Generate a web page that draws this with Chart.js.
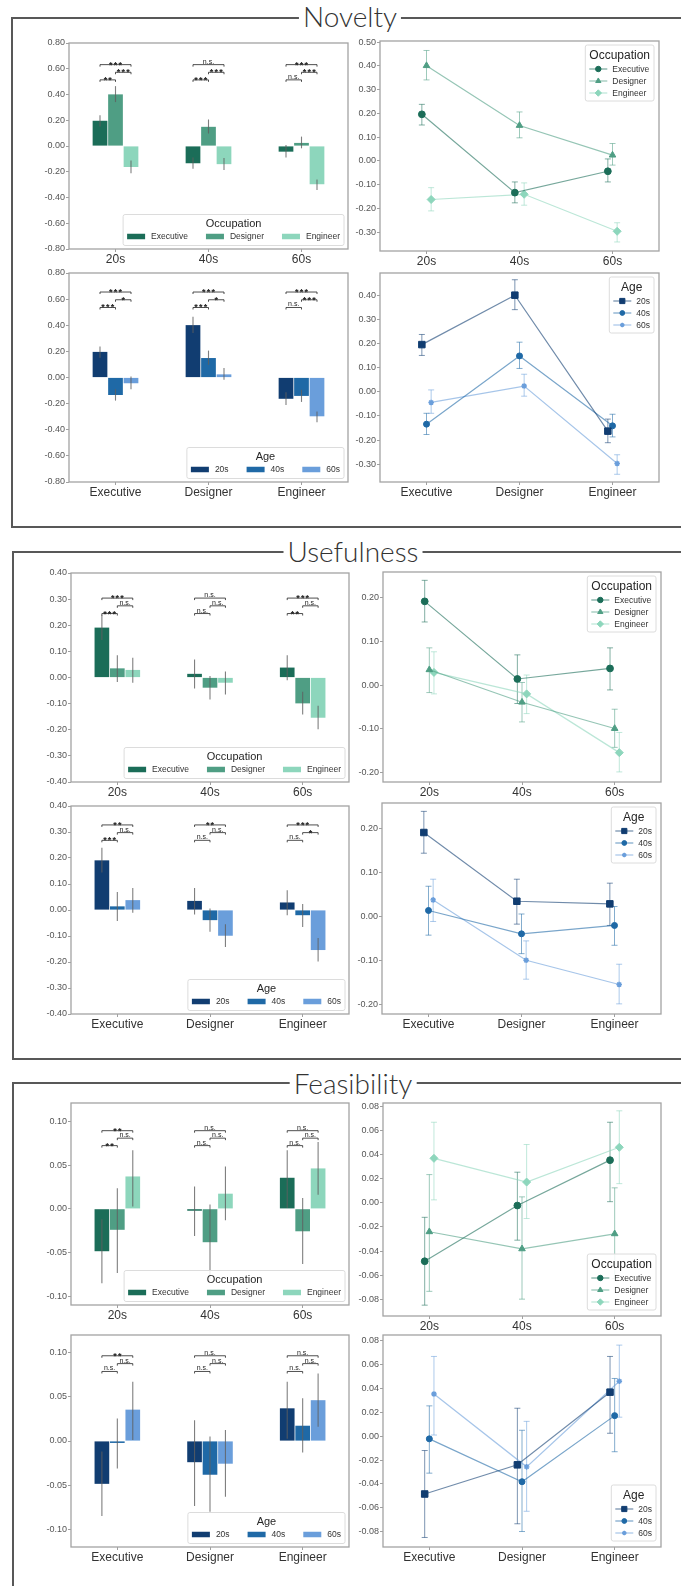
<!DOCTYPE html>
<html><head><meta charset="utf-8">
<script src="https://cdn.jsdelivr.net/npm/chart.js@4.4.0/dist/chart.umd.min.js"></script>
<style>
html,body{margin:0;padding:0;background:#fff;}
body{width:681px;height:1586px;position:relative;overflow:hidden;}
.sec{position:absolute;border-left:2px solid #585858;border-top:2px solid #585858;border-bottom:2px solid #585858;box-sizing:border-box;}
.ttl{position:absolute;background:#fff;font-family:Lato,'Noto Sans',sans-serif;font-weight:300;font-size:28px;line-height:28px;color:#333;padding:0 4px;transform:translateX(-50%);white-space:nowrap;}
canvas{position:absolute;}
</style></head><body>
<div class="sec" style="left:11px;top:17px;width:700px;height:511px"></div>
<div class="ttl" style="left:350px;top:2px">Novelty</div>
<div class="sec" style="left:12px;top:551px;width:700px;height:509px"></div>
<div class="ttl" style="left:353px;top:537px">Usefulness</div>
<div class="sec" style="left:12px;top:1082px;width:700px;height:600px"></div>
<div class="ttl" style="left:353px;top:1069px">Feasibility</div>
<script>
// ---------- categories ----------
const ages = ['20s', '40s', '60s'];
const occupations = ['Executive', 'Designer', 'Engineer'];

// ---------- Novelty: mean and CI per occupation, over ages 20s / 40s / 60s ----------
const novExecMean = [0.196, -0.134, -0.044];
const novExecLo   = [0.151, -0.177, -0.089];
const novExecHi   = [0.238, -0.089, 0.008];
const novDesMean  = [0.401, 0.149, 0.024];
const novDesLo    = [0.341, 0.097, -0.018];
const novDesHi    = [0.465, 0.206, 0.073];
const novEngMean  = [-0.163, -0.141, -0.297];
const novEngLo    = [-0.211, -0.187, -0.342];
const novEngHi    = [-0.113, -0.093, -0.261];

// ---------- Usefulness ----------
const useExecMean = [0.191, 0.014, 0.038];
const useExecLo   = [0.144, -0.042, -0.011];
const useExecHi   = [0.239, 0.069, 0.085];
const useDesMean  = [0.035, -0.039, -0.099];
const useDesLo    = [-0.017, -0.084, -0.142];
const useDesHi    = [0.085, 0.006, -0.055];
const useEngMean  = [0.029, -0.020, -0.154];
const useEngLo    = [-0.020, -0.065, -0.198];
const useEngHi    = [0.076, 0.023, -0.108];

// ---------- Feasibility ----------
const feaExecMean = [-0.0485, -0.0022, 0.0355];
const feaExecLo   = [-0.085, -0.031, 0.001];
const feaExecHi   = [-0.012, 0.0255, 0.067];
const feaDesMean  = [-0.024, -0.0382, -0.0257];
const feaDesLo    = [-0.0735, -0.080, -0.063];
const feaDesHi    = [0.0235, 0.005, 0.0125];
const feaEngMean  = [0.037, 0.0173, 0.0462];
const feaEngLo    = [0.0025, -0.013, 0.016];
const feaEngHi    = [0.067, 0.0485, 0.0765];

// ---------- significance labels per group: [pair 1-2, pair 2-3, pair 1-3] ----------
const novOccSig = [['**', '***', '***'], ['***', '***', 'n.s.'], ['n.s.', '***', '***']];
const novAgeSig = [['***', '*', '***'], ['***', '*', '***'], ['n.s.', '***', '***']];
const useOccSig = [['***', 'n.s.', '***'], ['n.s.', 'n.s.', 'n.s.'], ['**', 'n.s.', '***']];
const useAgeSig = [['***', 'n.s.', '**'], ['n.s.', 'n.s.', '**'], ['n.s.', '*', '***']];
const feaOccSig = [['**', 'n.s.', '**'], ['n.s.', 'n.s.', 'n.s.'], ['n.s.', 'n.s.', 'n.s.']];
const feaAgeSig = [['n.s.', 'n.s.', '**'], ['n.s.', 'n.s.', 'n.s.'], ['n.s.', 'n.s.', 'n.s.']];

// ---------- tick values ----------
const novBarTicks  = [-0.8, -0.6, -0.4, -0.2, 0, 0.2, 0.4, 0.6, 0.8];
const novLineTicks = [-0.3, -0.2, -0.1, 0, 0.1, 0.2, 0.3, 0.4, 0.5];
const useBarTicks  = [-0.4, -0.3, -0.2, -0.1, 0, 0.1, 0.2, 0.3, 0.4];
const useLineTicks = [-0.2, -0.1, 0, 0.1, 0.2];
const feaBarTicks  = [-0.1, -0.05, 0, 0.05, 0.1];
const feaLineTicks = [-0.08, -0.06, -0.04, -0.02, 0, 0.02, 0.04, 0.06, 0.08];

// ---------- styles ----------
const occColors = ['#1b6d58', '#4f9e84', '#8dd6bc'];
const ageColors = ['#113d71', '#1f69a6', '#6a9edb'];
const occMarkers = ['circle', 'triangle', 'rectRot'];
const occRadii = [3.4, 3.8, 4.0];
const ageMarkers = ['rect', 'circle', 'star'];
const ageRadii = [4.6, 3.0, 2.8];
const FONT = '"Liberation Sans", Arial, Helvetica, sans-serif';

Chart.defaults.font.family = FONT;
Chart.defaults.animation = false;

const PAD_L = 42, PAD_T = 8, PAD_R = 8, PAD_B = 26;

function hexA(hex, a) {
  const n = parseInt(hex.slice(1), 16);
  return 'rgba(' + ((n >> 16) & 255) + ',' + ((n >> 8) & 255) + ',' + (n & 255) + ',' + a + ')';
}

function series3(m1, l1, h1, m2, l2, h2, m3, l3, h3) {
  return [
    {label: occupations[0], mean: m1, lo: l1, hi: h1},
    {label: occupations[1], mean: m2, lo: l2, hi: h2},
    {label: occupations[2], mean: m3, lo: l3, hi: h3}
  ];
}
function byAge(occ) {
  return ages.map((a, k) => ({
    label: a,
    mean: occ.map(s => s.mean[k]),
    lo: occ.map(s => s.lo[k]),
    hi: occ.map(s => s.hi[k])
  }));
}

const novOcc = series3(novExecMean, novExecLo, novExecHi, novDesMean, novDesLo, novDesHi, novEngMean, novEngLo, novEngHi);
const useOcc = series3(useExecMean, useExecLo, useExecHi, useDesMean, useDesLo, useDesHi, useEngMean, useEngLo, useEngHi);
const feaOcc = series3(feaExecMean, feaExecLo, feaExecHi, feaDesMean, feaDesLo, feaDesHi, feaEngMean, feaEngLo, feaEngHi);

function place(id, rect) {
  const [l, t, r, b] = rect;
  const c = document.createElement('canvas');
  c.id = id;
  const w = Math.round(r - l) + PAD_L + PAD_R, h = Math.round(b - t) + PAD_T + PAD_B;
  c.width = w; c.height = h;
  c.style.width = w + 'px'; c.style.height = h + 'px';
  c.style.left = (Math.round(l) - PAD_L) + 'px';
  c.style.top = (Math.round(t) - PAD_T) + 'px';
  document.body.appendChild(c);
  return c;
}

function gridCfg() {
  return {drawOnChartArea: false, drawTicks: true, tickLength: 3, color: '#888', lineWidth: 0.8, offset: false};
}
function yCfg(y) {
  return {
    type: 'linear', min: y.min, max: y.max, bounds: 'data',
    afterFit: s => { s.width = PAD_L; },
    afterBuildTicks: s => { s.ticks = y.ticks.filter(v => v >= y.min - 1e-9 && v <= y.max + 1e-9).map(v => ({value: v})); },
    ticks: {callback: v => Number(v).toFixed(2), font: {size: 9}, color: '#555', padding: 1, autoSkip: false},
    grid: gridCfg(), border: {display: false}
  };
}
function xCatCfg() {
  return {
    type: 'category',
    afterFit: s => { s.height = PAD_B; },
    ticks: {font: {size: 12}, color: '#333', padding: 0, maxRotation: 0, autoSkip: false},
    grid: gridCfg(), border: {display: false}
  };
}
function xLinCfg(cats) {
  return {
    type: 'linear', min: -0.5, max: 2.5, bounds: 'data',
    afterFit: s => { s.height = PAD_B; },
    afterBuildTicks: s => { s.ticks = cats.map((_, i) => ({value: i})); },
    ticks: {callback: v => cats[Math.round(v)], font: {size: 12}, color: '#333', padding: 0, maxRotation: 0, autoSkip: false},
    grid: gridCfg(), border: {display: false}
  };
}

function roundRect(ctx, x, y, w, h, r) {
  ctx.beginPath();
  ctx.moveTo(x + r, y); ctx.lineTo(x + w - r, y); ctx.arcTo(x + w, y, x + w, y + r, r);
  ctx.lineTo(x + w, y + h - r); ctx.arcTo(x + w, y + h, x + w - r, y + h, r);
  ctx.lineTo(x + r, y + h); ctx.arcTo(x, y + h, x, y + h - r, r);
  ctx.lineTo(x, y + r); ctx.arcTo(x, y, x + r, y, r); ctx.closePath();
}

function drawErrors(chart, d) {
  const ctx = chart.ctx, ys = chart.scales.y;
  ctx.save();
  ctx.lineWidth = d.errWidth;
  chart.data.datasets.forEach((ds, di) => {
    const meta = chart.getDatasetMeta(di);
    ctx.strokeStyle = ds.errColor;
    meta.data.forEach((el, i) => {
      const x = el.x, y1 = ys.getPixelForValue(ds.errLo[i]), y2 = ys.getPixelForValue(ds.errHi[i]);
      ctx.beginPath(); ctx.moveTo(x, y1); ctx.lineTo(x, y2);
      if (d.cap) {
        ctx.moveTo(x - d.cap, y1); ctx.lineTo(x + d.cap, y1);
        ctx.moveTo(x - d.cap, y2); ctx.lineTo(x + d.cap, y2);
      }
      ctx.stroke();
    });
  });
  ctx.restore();
}

function drawSig(chart, d) {
  const ctx = chart.ctx, a = chart.chartArea, h = a.bottom - a.top;
  const pairs = [[0, 1, 2], [1, 2, 1], [0, 2, 0]];
  ctx.save();
  ctx.strokeStyle = '#222'; ctx.fillStyle = '#222'; ctx.lineWidth = 0.8;
  ctx.textAlign = 'center'; ctx.textBaseline = 'alphabetic';
  d.sig.forEach((labels, g) => {
    const xs = [0, 1, 2].map(k => chart.getDatasetMeta(k).data[g].x);
    pairs.forEach(([i, j, lev], p) => {
      const y = a.top + h * (d.sigTop + lev * d.sigStep);
      const x1 = xs[i], x2 = xs[j];
      ctx.beginPath(); ctx.moveTo(x1, y + 2); ctx.lineTo(x1, y); ctx.lineTo(x2, y); ctx.lineTo(x2, y + 2); ctx.stroke();
      const lab = labels[p];
      const star = lab.indexOf('*') >= 0;
      ctx.font = star ? 'bold 9px ' + FONT : '7px ' + FONT;
      if ('letterSpacing' in ctx) ctx.letterSpacing = star ? '1.2px' : '0px';
      ctx.fillText(lab, (x1 + x2) / 2 + (star ? 0.6 : 0), star ? y + 3 : y - 1);
    });
  });
  ctx.restore();
}

function drawBarLegend(chart, d) {
  const ctx = chart.ctx, a = chart.chartArea;
  const fs = 8.5, hw = 18, hh = 5.5, tg = 6, cg = 18, pad = 4, H = 31;
  ctx.save();
  ctx.font = fs + 'px ' + FONT;
  const items = chart.data.datasets.map(ds => ({label: ds.label, color: ds.backgroundColor, w: hw + tg + ctx.measureText(ds.label).width}));
  const W = pad * 2 + items.reduce((s, it) => s + it.w, 0) + cg * (items.length - 1);
  const x0 = a.right - 4 - W, y0 = a.bottom - 3.5 - H;
  roundRect(ctx, x0, y0, W, H, 2);
  ctx.fillStyle = 'rgba(255,255,255,0.85)'; ctx.fill();
  ctx.strokeStyle = '#dcdcdc'; ctx.lineWidth = 1; ctx.stroke();
  ctx.fillStyle = '#262626'; ctx.font = '11px ' + FONT; ctx.textAlign = 'center'; ctx.textBaseline = 'middle';
  ctx.fillText(d.legendTitle, x0 + W / 2, y0 + 9.5);
  ctx.font = fs + 'px ' + FONT; ctx.textAlign = 'left';
  let x = x0 + pad;
  items.forEach(it => {
    ctx.fillStyle = it.color; ctx.fillRect(x, y0 + 22 - hh / 2, hw, hh);
    ctx.fillStyle = '#333'; ctx.fillText(it.label, x + hw + tg, y0 + 22.5);
    x += it.w + cg;
  });
  ctx.restore();
}

function drawLineLegend(chart, d) {
  const ctx = chart.ctx, a = chart.chartArea;
  const fs = 8.5, hw = 18, tg = 5, pad = 4, H = 56;
  ctx.save();
  ctx.font = fs + 'px ' + FONT;
  const dss = chart.data.datasets;
  const maxT = Math.max.apply(null, dss.map(ds => ctx.measureText(ds.label).width));
  ctx.font = '12px ' + FONT;
  const tW = ctx.measureText(d.legendTitle).width;
  const W = Math.max(pad * 2 + hw + tg + maxT, tW + 8);
  const x0 = a.right - 5 - W, y0 = d.legendPos === 'top' ? a.top + 4 : a.bottom - 6 - H;
  roundRect(ctx, x0, y0, W, H, 2);
  ctx.fillStyle = 'rgba(255,255,255,0.85)'; ctx.fill();
  ctx.strokeStyle = '#dcdcdc'; ctx.lineWidth = 1; ctx.stroke();
  ctx.fillStyle = '#262626'; ctx.textAlign = 'center'; ctx.textBaseline = 'middle';
  ctx.fillText(d.legendTitle, x0 + W / 2, y0 + 10.5);
  ctx.font = fs + 'px ' + FONT; ctx.textAlign = 'left';
  dss.forEach((ds, k) => {
    const y = y0 + 24 + 12 * k, xl = x0 + pad;
    ctx.strokeStyle = ds.borderColor; ctx.lineWidth = 1.2;
    ctx.beginPath(); ctx.moveTo(xl, y); ctx.lineTo(xl + hw, y); ctx.stroke();
    ctx.fillStyle = ds.pointBackgroundColor; ctx.strokeStyle = ds.pointBorderColor;
    ctx.lineWidth = ds.pointBorderWidth;
    if (Chart.helpers && Chart.helpers.drawPoint) {
      Chart.helpers.drawPoint(ctx, {pointStyle: ds.pointStyle, rotation: 0, radius: ds.pointRadius * 0.8, borderWidth: ds.pointBorderWidth}, xl + hw / 2, y);
    } else {
      ctx.beginPath(); ctx.arc(xl + hw / 2, y, ds.pointRadius * 0.8, 0, Math.PI * 2); ctx.fill();
    }
    ctx.fillStyle = '#333';
    ctx.fillText(ds.label, xl + hw + tg, y + 0.5);
  });
  ctx.restore();
}

function decoPlugin(d) {
  return {
    id: 'deco',
    beforeDatasetsDraw(chart) { if (d.kind === 'line') drawErrors(chart, d); },
    afterDatasetsDraw(chart) {
      if (d.kind === 'bar') { drawErrors(chart, d); drawSig(chart, d); drawBarLegend(chart, d); }
      else drawLineLegend(chart, d);
    },
    afterDraw(chart) {
      const a = chart.chartArea, ctx = chart.ctx;
      ctx.save(); ctx.strokeStyle = '#a3a3a3'; ctx.lineWidth = 1.3;
      ctx.strokeRect(a.left, a.top, a.right - a.left, a.bottom - a.top);
      ctx.restore();
    }
  };
}

function baseOptions(xScale, y) {
  return {
    responsive: false, animation: false, events: [], devicePixelRatio: 1,
    layout: {padding: {left: 0, top: PAD_T, right: PAD_R, bottom: 0}},
    plugins: {legend: {display: false}, tooltip: {enabled: false}, title: {display: false}},
    scales: {x: xScale, y: yCfg(y)}
  };
}

function makeBar(id, rect, cats, series, colors, y, sig, sigTop, legendTitle) {
  const canvas = place(id, rect);
  return new Chart(canvas, {
    type: 'bar',
    data: {
      labels: cats,
      datasets: series.map((s, k) => ({
        label: s.label, data: s.mean, errLo: s.lo, errHi: s.hi,
        backgroundColor: colors[k], borderWidth: 0, errColor: 'rgba(95,95,95,0.8)',
        categoryPercentage: 0.5, barPercentage: 0.95
      }))
    },
    options: baseOptions(xCatCfg(), y),
    plugins: [decoPlugin({kind: 'bar', errWidth: 1.1, cap: 0, sig, sigTop, sigStep: 0.037, legendTitle})]
  });
}

function makeLine(id, rect, cats, series, colors, markers, radii, y, legendTitle, legendPos) {
  const canvas = place(id, rect);
  const dodge = [-0.05, 0, 0.05];
  return new Chart(canvas, {
    type: 'line',
    data: {
      datasets: series.map((s, k) => ({
        label: s.label,
        data: s.mean.map((v, i) => ({x: i + dodge[k], y: v})),
        errLo: s.lo, errHi: s.hi,
        borderColor: hexA(colors[k], 0.6), borderWidth: 1.2, backgroundColor: colors[k],
        pointStyle: markers[k], pointRadius: radii[k],
        pointBackgroundColor: colors[k], pointBorderColor: colors[k],
        pointBorderWidth: markers[k] === 'star' ? 1.4 : 1,
        errColor: hexA(colors[k], 0.55), tension: 0, fill: false
      }))
    },
    options: baseOptions(xLinCfg(cats), y),
    plugins: [decoPlugin({kind: 'line', errWidth: 1, cap: 3, legendTitle, legendPos})]
  });
}

// ---------- Novelty ----------
makeBar('novOccBar', [68.5, 43, 347.5, 249], ages, novOcc, occColors, {min: -0.8, max: 0.8, ticks: novBarTicks}, novOccSig, 0.105, 'Occupation');
makeLine('novOccLine', [380, 41, 659, 251], ages, novOcc, occColors, occMarkers, occRadii, {min: -0.38, max: 0.505, ticks: novLineTicks}, 'Occupation', 'top');
makeBar('novAgeBar', [68.5, 273, 347.5, 482], occupations, byAge(novOcc), ageColors, {min: -0.8, max: 0.8, ticks: novBarTicks}, novAgeSig, 0.091, 'Age');
makeLine('novAgeLine', [380, 273, 659, 482], occupations, byAge(novOcc), ageColors, ageMarkers, ageRadii, {min: -0.374, max: 0.493, ticks: novLineTicks}, 'Age', 'top');

// ---------- Usefulness ----------
makeBar('useOccBar', [71, 573, 349, 782], ages, useOcc, occColors, {min: -0.4, max: 0.4, ticks: useBarTicks}, useOccSig, 0.12, 'Occupation');
makeLine('useOccLine', [382.5, 572, 660.5, 782], ages, useOcc, occColors, occMarkers, occRadii, {min: -0.221, max: 0.258, ticks: useLineTicks}, 'Occupation', 'top');
makeBar('useAgeBar', [71, 806, 349, 1014], occupations, byAge(useOcc), ageColors, {min: -0.4, max: 0.4, ticks: useBarTicks}, useAgeSig, 0.091, 'Age');
makeLine('useAgeLine', [382, 803, 660.5, 1014], occupations, byAge(useOcc), ageColors, ageMarkers, ageRadii, {min: -0.221, max: 0.258, ticks: useLineTicks}, 'Age', 'top');

// ---------- Feasibility ----------
makeBar('feaOccBar', [71, 1103, 349, 1305], ages, feaOcc, occColors, {min: -0.11, max: 0.121, ticks: feaBarTicks}, feaOccSig, 0.137, 'Occupation');
makeLine('feaOccLine', [382.5, 1103, 660.5, 1316], ages, feaOcc, occColors, occMarkers, occRadii, {min: -0.094, max: 0.083, ticks: feaLineTicks}, 'Occupation', 'bottom');
makeBar('feaAgeBar', [71, 1335, 349, 1547], occupations, byAge(feaOcc), ageColors, {min: -0.12, max: 0.12, ticks: feaBarTicks}, feaAgeSig, 0.098, 'Age');
makeLine('feaAgeLine', [382.5, 1335, 660.5, 1547], occupations, byAge(feaOcc), ageColors, ageMarkers, ageRadii, {min: -0.093, max: 0.085, ticks: feaLineTicks}, 'Age', 'bottom');
</script>
</body></html>
